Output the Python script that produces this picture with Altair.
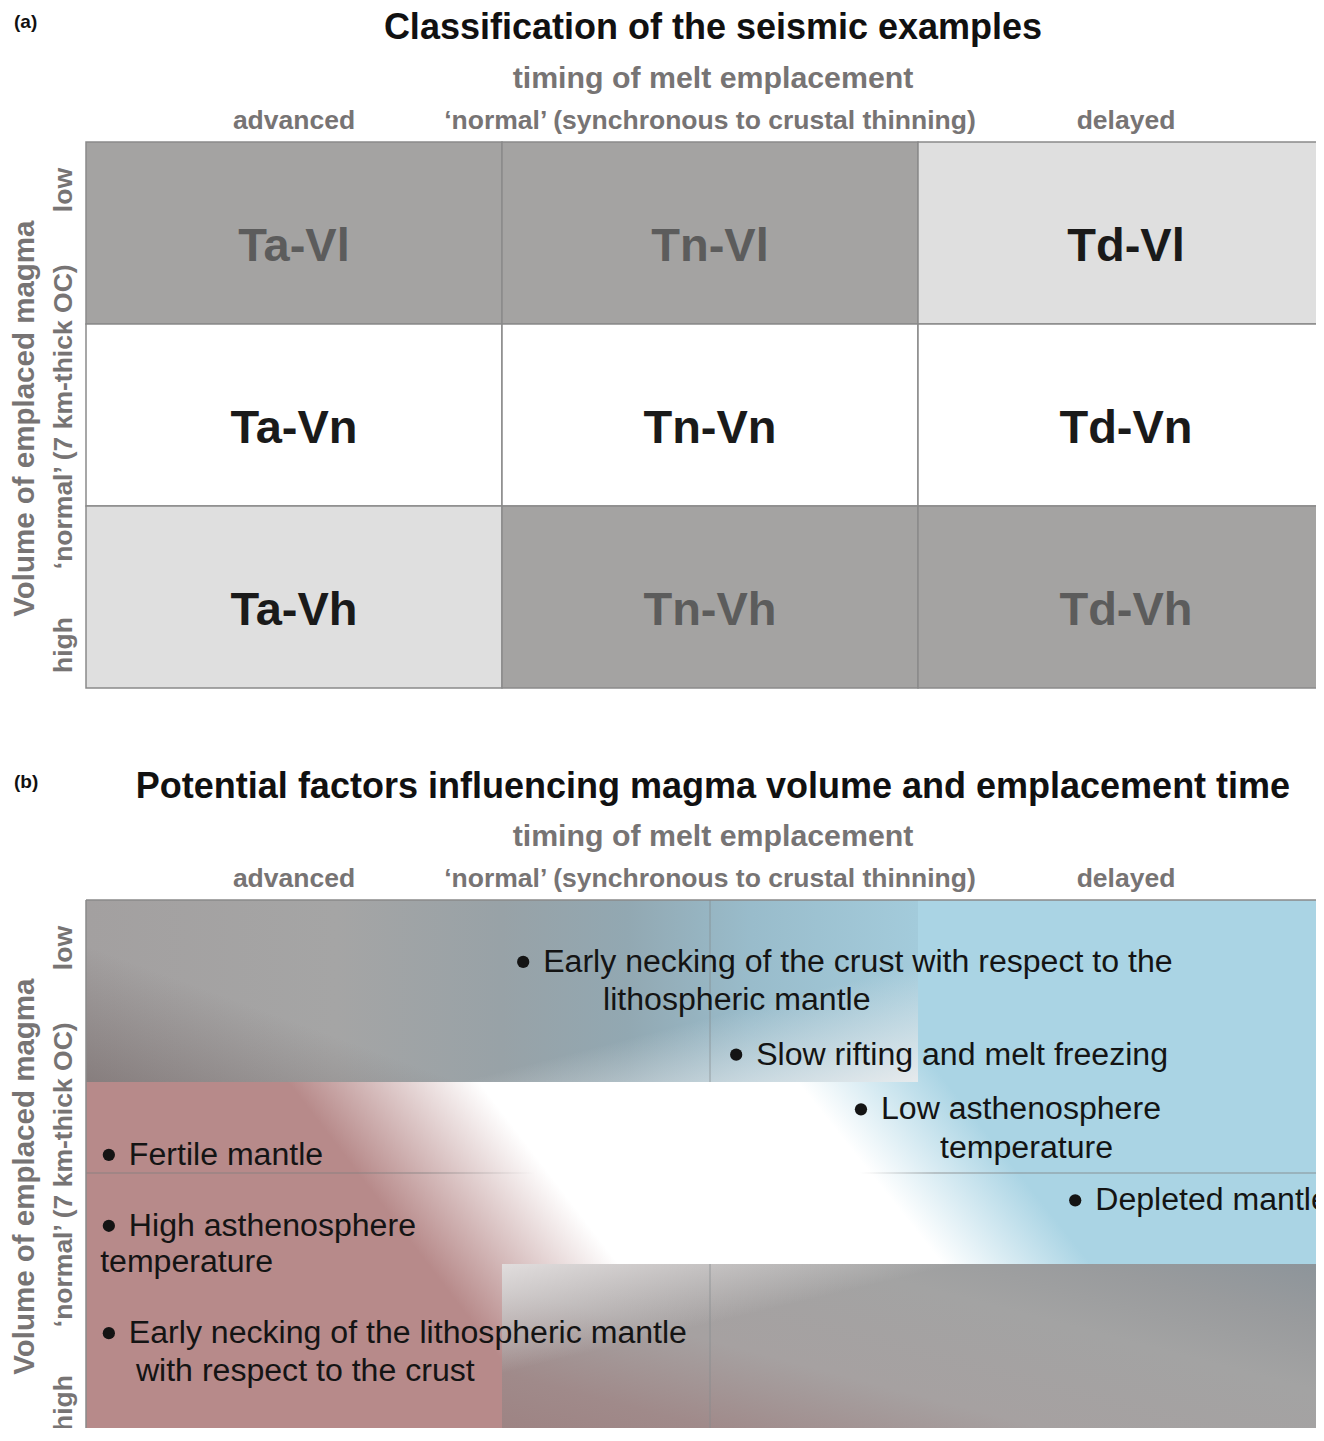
import altair as alt
import pandas as pd

# ---------------- chart content ----------------
timing_labels = ["advanced", "\u2018normal\u2019 (synchronous to crustal thinning)", "delayed"]
timing_codes = ["Ta", "Tn", "Td"]
volume_labels = ["low", "\u2018normal\u2019 (7 km-thick OC)", "high"]
volume_codes = ["Vl", "Vn", "Vh"]
# shading class of each example cell: rows = magma volume (low, normal, high),
# columns = timing of emplacement (advanced, normal, delayed)
cell_shade = [
    ["dark", "dark", "light"],
    ["white", "white", "white"],
    ["light", "dark", "dark"],
]

panel_tags = ["(a)", "(b)"]
panel_titles = ["Classification of the seismic examples",
                "Potential factors influencing magma volume and emplacement time"]
timing_title = "timing of melt emplacement"
volume_title = "Volume of emplaced magma"

# panel (b) factors: text line, starts with a bullet?, column / row position (grid units)
factor_text = [
    "Early necking of the crust with respect to the",
    "lithospheric mantle",
    "Slow rifting and melt freezing",
    "Low asthenosphere",
    "temperature",
    "Fertile mantle",
    "High asthenosphere",
    "temperature",
    "Early necking of the lithospheric mantle",
    "with respect to the crust",
    "Depleted mantle",
]
factor_bullet = [True, False, True, True, False, True, True, False, True, False, True]
factor_col = [1.099, 1.243, 1.611, 1.911, 2.053, 0.103, 0.103, 0.034, 0.103, 0.120, 2.426]
factor_row = [0.34, 0.55, 0.85, 1.15, 1.36, 1.40, 1.79, 1.99, 2.38, 2.59, 1.65]

# panel (b) shaded domains (grid units: col from, col to, row from, row to)
pink_zone = [0.0, 1.35, 1.0, 3.2]     # high volume / advanced
blue_zone = [0.9, 3.0, 0.0, 2.0]      # low volume / delayed
grey_low_zone = [0.0, 2.0, 0.0, 1.0]
grey_high_zone = [1.0, 3.0, 2.0, 3.2]

# ---------------- layout ----------------
FONT = "Liberation Sans"
GREY_TEXT = "#777474"
W, H = 1308, 1420
REF_LEFT, COL, REF_TOP, ROW, MARGIN = 86, 416, 142, 182, 8


def col_at(px):
    return (px - REF_LEFT) / COL


def row_at(py):
    return (py - REF_TOP) / ROW


OFFSETS = [0.0, row_at(900)]
XS = alt.Scale(domain=[col_at(MARGIN), col_at(MARGIN + W)], nice=False, zero=False)
YS = alt.Scale(domain=[row_at(MARGIN), row_at(MARGIN + H)], nice=False, zero=False, reverse=True)


def rect_layer(df, **mark):
    return alt.Chart(df).mark_rect(clip=True, **mark).encode(
        x=alt.X("u0:Q", scale=XS, axis=None), x2="u1:Q",
        y=alt.Y("v0:Q", scale=YS, axis=None), y2="v1:Q")


def zone_df(z, off):
    return pd.DataFrame({"u0": [z[0]], "u1": [z[1]], "v0": [z[2] + off], "v1": [z[3] + off]})


def text_layer(df, size, color, weight="normal", align="left", angle=0, dx=0, dy=0):
    return alt.Chart(df).mark_text(
        font=FONT, fontSize=size, color=color, fontWeight=weight, align=align,
        baseline="middle", angle=angle, dx=dx, dy=dy).encode(
        x=alt.X("u:Q", scale=XS, axis=None), y=alt.Y("v:Q", scale=YS, axis=None), text="text:N")


def lin(stops, x1=0, y1=0, x2=1, y2=0):
    return {"gradient": "linear", "x1": x1, "y1": y1, "x2": x2, "y2": y2,
            "stops": [{"offset": o, "color": c} for o, c in stops]}


def corner_grad(color, alpha, width_frac, height_frac, corner):
    """linear fade from a rect corner; width/height_frac = reach of the fade."""
    cx, cy = corner
    a, b = 1 / width_frac, 1 / height_frac
    n = a * a + b * b
    sx = 1 if cx == 0 else -1
    sy = 1 if cy == 0 else -1
    return lin([(0, f"rgba({color},{alpha})"), (1, f"rgba({color},0)")],
               cx, cy, cx + sx * a / n, cy + sy * b / n)


layers = []

# ---------- panel (a): classification grid ----------
cells = []
for r in range(3):
    for c in range(3):
        cells.append({"u0": c, "u1": c + 1, "v0": r, "v1": r + 1, "u": c + 0.5, "v": r + 0.5,
                      "shade": cell_shade[r][c], "text": f"{timing_codes[c]}-{volume_codes[r]}"})
cells = pd.DataFrame(cells)
layers.append(alt.Chart(cells).mark_rect(stroke="#8a8a8a", strokeWidth=1.5, clip=True).encode(
    x=alt.X("u0:Q", scale=XS, axis=None), x2="u1:Q",
    y=alt.Y("v0:Q", scale=YS, axis=None), y2="v1:Q",
    color=alt.Color("shade:N", legend=None,
                    scale=alt.Scale(domain=["dark", "light", "white"],
                                    range=["#a4a3a2", "#dfdfdf", "#ffffff"]))))
layers.append(text_layer(cells[cells.shade == "dark"], 47, "#5c5c5c", "bold", "center", dy=14))
layers.append(text_layer(cells[cells.shade != "dark"], 47, "#1a1a1a", "bold", "center", dy=14))

# ---------- panel (b): factor diagram ----------
ob = OFFSETS[1]
pink = "183,138,138"
blue = "170,212,228"
layers.append(rect_layer(zone_df(pink_zone, ob), color=lin(
    [(0, f"rgba({pink},1)"), (0.36, f"rgba({pink},1)"), (0.70, f"rgba({pink},0)"), (1, f"rgba({pink},0)")],
    0, 0, 0.770, -0.4206)))
layers.append(rect_layer(zone_df(blue_zone, ob), color=lin(
    [(0, f"rgba({blue},0)"), (0.22, f"rgba({blue},0)"), (0.39, f"rgba({blue},1)"), (1, f"rgba({blue},1)")],
    0, 0, 0.901, -0.299)))
# grey: low volume, advanced-normal timing
layers.append(rect_layer(zone_df(grey_low_zone, ob), color=lin(
    [(0, "#a3a0a0"), (0.3, "#a5a5a5"), (0.5, "#98a2a7"), (0.65, "#92a8b2"), (0.8, "#99bccb"), (1, "#a3cbdb")])))
layers.append(rect_layer(zone_df(grey_low_zone, ob),
                         color=corner_grad("100,84,84", 0.45, 0.45, 0.75, (0, 1))))
layers.append(rect_layer(zone_df(grey_low_zone, ob),
                         color=corner_grad("232,235,237", 0.97, 0.55, 0.65, (1, 1))))
# grey: high volume, normal-delayed timing
layers.append(rect_layer(zone_df(grey_high_zone, ob), color=lin(
    [(0, "#9b7d7d"), (0.25, "#a08a8a"), (0.45, "#a6a1a1"), (0.7, "#a3a3a3"), (0.85, "#999b9d"), (1, "#8c949a")],
    0, 1, 1, 0)))
layers.append(rect_layer(zone_df(grey_high_zone, ob),
                         color=corner_grad("228,224,224", 0.95, 0.55, 0.5, (0, 0))))

# thin grid lines of panel (b)
hline = pd.DataFrame({"u0": [0.0], "u1": [3.0], "v0": [ob + 1.5 - 0.003], "v1": [ob + 1.5 + 0.003]})
g = "125,125,125"
layers.append(rect_layer(hline, color=lin(
    [(0, f"rgba({g},0.75)"), (0.27, f"rgba({g},0.75)"), (0.36, f"rgba({g},0)"),
     (0.62, f"rgba({g},0)"), (0.68, f"rgba({g},0.75)"), (1, f"rgba({g},0.75)")])))
vseg = pd.DataFrame({"u": [1.5, 1.5], "v0": [ob + 0.0, ob + 2.0], "v1": [ob + 1.0, ob + 3.2]})
layers.append(alt.Chart(vseg).mark_rule(color="#858a8c", strokeWidth=1, opacity=0.7, clip=True).encode(
    x=alt.X("u:Q", scale=XS, axis=None), y=alt.Y("v0:Q", scale=YS, axis=None), y2="v1:Q"))
border = pd.DataFrame({"u0": [0.0, 0.0], "u1": [3.0, 0.0], "v0": [ob, ob], "v1": [ob, ob + 3.2]})
layers.append(alt.Chart(border).mark_rule(color="#8a8a8a", strokeWidth=1.5, clip=True).encode(
    x=alt.X("u0:Q", scale=XS, axis=None), x2="u1:Q",
    y=alt.Y("v0:Q", scale=YS, axis=None), y2="v1:Q"))

factors = pd.DataFrame({"text": factor_text, "bullet": factor_bullet,
                        "u": factor_col, "v": [ob + v for v in factor_row]})
layers.append(text_layer(factors, 32.1, "#141414"))
layers.append(alt.Chart(factors[factors.bullet]).mark_circle(size=150, color="#141414", opacity=1).transform_calculate(
    bu=f"datum.u - {20 / COL}").encode(
    x=alt.X("bu:Q", scale=XS, axis=None), y=alt.Y("v:Q", scale=YS, axis=None)))

# ---------- headings shared by both panels ----------
tags = pd.DataFrame({"text": panel_tags, "u": [col_at(14)] * 2, "v": [row_at(22), row_at(782)]})
titles = pd.DataFrame({"text": panel_titles, "u": [col_at(713)] * 2, "v": [row_at(28), row_at(787)]})
ttl = pd.DataFrame({"text": [timing_title] * 2, "u": [col_at(713)] * 2,
                    "v": [o + row_at(79) for o in OFFSETS]})
heads = pd.DataFrame([{"text": t, "u": c + 0.5, "v": o + row_at(121)}
                      for o in OFFSETS for c, t in enumerate(timing_labels)])
vtitle = pd.DataFrame({"text": [volume_title] * 2, "u": [col_at(25)] * 2, "v": [o + 1.52 for o in OFFSETS]})
vlab_pos = [0.264, 1.51, 2.764]
vlabs = pd.DataFrame([{"text": t, "u": col_at(63.5), "v": o + vlab_pos[i]}
                      for o in OFFSETS for i, t in enumerate(volume_labels)])

layers.append(text_layer(tags, 19, "#111111", "bold"))
layers.append(text_layer(titles, 36, "#111111", "bold", "center"))
layers.append(text_layer(ttl, 30.3, GREY_TEXT, "bold", "center"))
layers.append(text_layer(heads, 26.5, GREY_TEXT, "bold", "center"))
layers.append(text_layer(vtitle, 29.5, GREY_TEXT, "bold", "center", angle=270))
layers.append(text_layer(vlabs, 26.5, GREY_TEXT, "bold", "center", angle=270))

chart = alt.layer(*layers).properties(
    width=W, height=H, padding=0, autosize=alt.AutoSizeParams(type="none")
).configure_view(stroke=None)

chart.save("out.html", embed_options={"renderer": "svg", "actions": False})
